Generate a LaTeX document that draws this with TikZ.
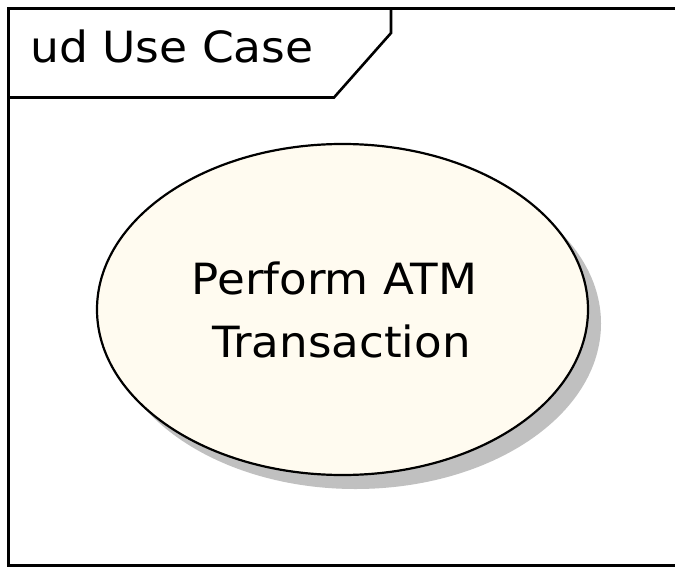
\documentclass[tikz,border=0pt]{standalone}
\usepackage{fontspec}
\setmainfont{DejaVu Sans}
\usetikzlibrary{shapes.geometric,shadows}
\definecolor{ucfill}{RGB}{255,251,240}
\definecolor{ucshadow}{RGB}{192,192,192}
\begin{document}
\begin{tikzpicture}[x=1bp,y=-1bp,
  framestyle/.style={line width=3bp, line join=miter},
  tabstyle/.style={line width=2.6bp, line join=miter},
  usecase/.style={ellipse, draw, line width=2.2bp, fill=ucfill,
    minimum width=491bp, minimum height=331bp, inner sep=0pt,
    align=center, font=\fontsize{43bp}{63bp}\selectfont,
    drop shadow={shadow xshift=13bp, shadow yshift=-14bp, fill=ucshadow, opacity=1}},
  tabtext/.style={anchor=base west, inner sep=0pt, font=\fontsize{43bp}{52bp}\selectfont}
]
\useasboundingbox (0,0) rectangle (675,568);
\begin{scope}
\clip (0,0) rectangle (675,568);
\fill[white] (0,0) rectangle (675,568);
% frame
\coordinate (ftr) at (680,8.3);
\coordinate (ftl) at (8.3,8.3);
\coordinate (fbl) at (8.3,565.5);
\coordinate (fbr) at (680,565.5);
\draw[framestyle] (ftr) -- (ftl) -- (fbl) -- (fbr);
% tab
\coordinate (t1) at (391,8.3);
\coordinate (t2) at (391,33);
\coordinate (t3) at (334,97.5);
\coordinate (t4) at (8.3,97.5);
\draw[tabstyle] (t1) -- (t2) -- (t3) -- (t4);
\node[tabtext] (title) at (30,63) {\scalebox{1.06}[1]{ud Use Case}};
% use case
\node[usecase] (uc) at (342.5,309.5) {\scalebox{1.05}[1]{Perform ATM}\hspace*{16bp}\\\scalebox{1.05}[1]{Transaction}\hspace*{2bp}};
\end{scope}
\end{tikzpicture}
\end{document}
